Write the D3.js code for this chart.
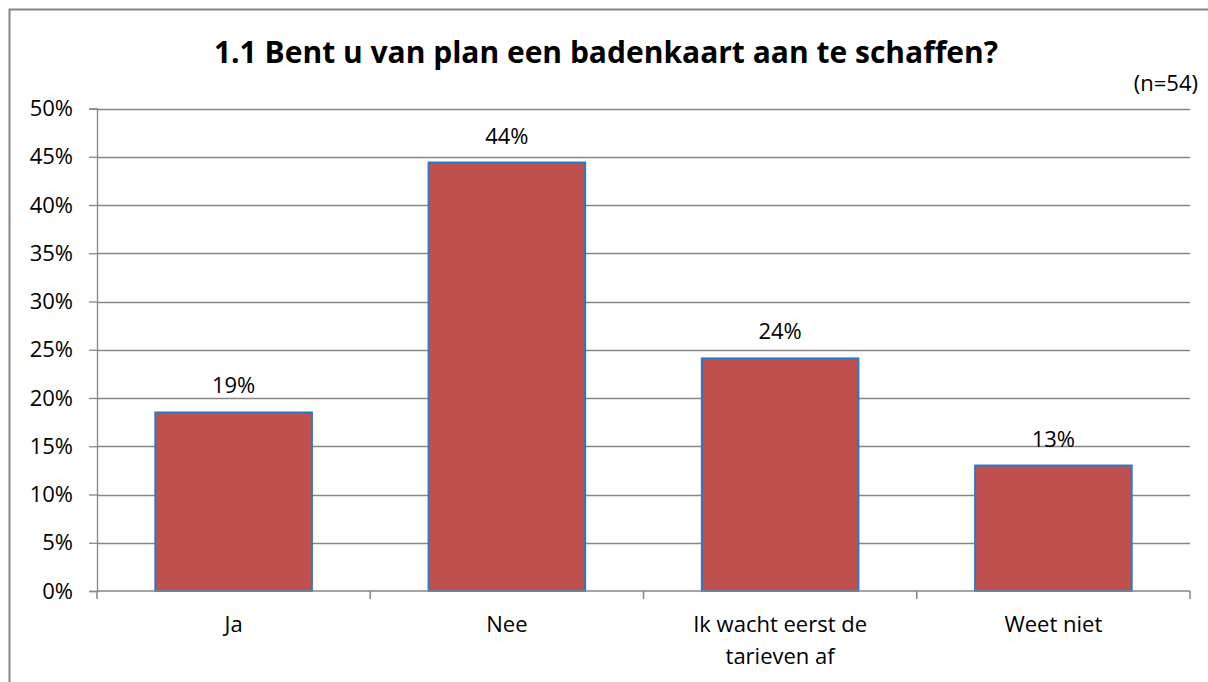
<!DOCTYPE html>
<html>
<head>
<meta charset="utf-8">
<script src="https://cdn.jsdelivr.net/npm/d3@7"></script>
<style>
  body { margin: 0; background: #fff; }
  text { font-family: "Open Sans", Lato, sans-serif; fill: #000; }
</style>
</head>
<body>
<div id="chart"></div>
<script>
// data (n=54)
var categories = ["Ja", "Nee", "Ik wacht eerst de tarieven af", "Weet niet"];
var values = [0.185, 0.444, 0.241, 0.130];
var valueLabels = ["19%", "44%", "24%", "13%"];
var yTicks = [0, 0.05, 0.10, 0.15, 0.20, 0.25, 0.30, 0.35, 0.40, 0.45, 0.50];
var title = "1.1 Bent u van plan een badenkaart aan te schaffen?";
var note = "(n=54)";

var width = 1208, height = 682;
var plotLeft = 97, plotRight = 1190, plotTop = 108.5, plotBottom = 591;
var grey = "#868686";
var font = "'Open Sans', Lato, sans-serif";

var svg = d3.select("#chart").append("svg")
    .attr("width", width)
    .attr("height", height);

// chart frame (runs off the right and bottom edge)
svg.append("rect")
    .attr("x", 9.5).attr("y", 9.5)
    .attr("width", 1210).attr("height", 700)
    .attr("fill", "#fff")
    .attr("stroke", grey)
    .attr("stroke-width", 2);

var x = d3.scaleBand()
    .domain(categories)
    .range([plotLeft, plotRight])
    .paddingInner(0.427)
    .paddingOuter(0.2135);

var y = d3.scaleLinear()
    .domain([0, 0.5])
    .range([plotBottom, plotTop]);

// gridlines
svg.append("g")
    .selectAll("line")
    .data(yTicks.slice(1))
    .enter().append("line")
    .attr("x1", plotLeft).attr("x2", plotRight)
    .attr("y1", d => Math.round(y(d)) + 0.5)
    .attr("y2", d => Math.round(y(d)) + 0.5)
    .attr("stroke", grey)
    .attr("stroke-width", 1.3);

// y axis
var yAxis = svg.append("g")
    .attr("transform", "translate(" + plotLeft + ",0)")
    .call(d3.axisLeft(y).tickValues(yTicks).tickFormat(d3.format(".0%")).tickSize(8).tickPadding(16));
yAxis.select(".domain").attr("stroke", grey).attr("stroke-width", 1.3);
yAxis.selectAll(".tick line").attr("stroke", grey).attr("stroke-width", 1.3);
yAxis.selectAll(".tick text")
    .attr("font-size", 22)
    .attr("font-family", font)
    .attr("fill", "#000");

// bars
svg.append("g")
    .selectAll("rect")
    .data(values)
    .enter().append("rect")
    .attr("x", (d, i) => x(categories[i]))
    .attr("y", d => y(d))
    .attr("width", x.bandwidth())
    .attr("height", d => plotBottom - y(d))
    .attr("fill", "#C0504D")
    .attr("stroke", "#2A78C6")
    .attr("stroke-width", 2);

// x axis: boundary ticks between categories
var step = x.step();
var boundaries = d3.range(categories.length + 1).map(i => plotLeft + i * step);
svg.append("line")
    .attr("x1", plotLeft).attr("x2", plotRight)
    .attr("y1", plotBottom).attr("y2", plotBottom)
    .attr("stroke", grey).attr("stroke-width", 1.5);
svg.append("g")
    .selectAll("line")
    .data(boundaries)
    .enter().append("line")
    .attr("x1", d => d).attr("x2", d => d)
    .attr("y1", plotBottom).attr("y2", plotBottom + 8)
    .attr("stroke", grey).attr("stroke-width", 1.5);

// value labels
svg.append("g")
    .selectAll("text")
    .data(values)
    .enter().append("text")
    .attr("x", (d, i) => x(categories[i]) + x.bandwidth() / 2)
    .attr("y", d => y(d) - 19)
    .attr("text-anchor", "middle")
    .attr("font-size", 22)
    .text((d, i) => valueLabels[i]);

// category labels, wrapped like the original
var catText = svg.append("g")
    .selectAll("text")
    .data(categories)
    .enter().append("text")
    .attr("x", d => x(d) + x.bandwidth() / 2)
    .attr("y", 632)
    .attr("text-anchor", "middle")
    .attr("font-size", 22);

catText.each(function (d) {
    var el = d3.select(this);
    var words = d.split(" ");
    var lines = [], line = [];
    var probe = el.append("tspan");
    words.forEach(w => {
        line.push(w);
        probe.text(line.join(" "));
        if (probe.node().getComputedTextLength() > 210 && line.length > 1) {
            line.pop();
            lines.push(line.join(" "));
            line = [w];
        }
    });
    lines.push(line.join(" "));
    probe.remove();
    lines.forEach((l, i) => {
        el.append("tspan")
            .attr("x", el.attr("x"))
            .attr("dy", i === 0 ? 0 : 32)
            .text(l);
    });
});

// title and note
svg.append("text")
    .attr("x", 606)
    .attr("y", 63)
    .attr("text-anchor", "middle")
    .attr("font-size", 30)
    .attr("font-weight", "bold")
    .text(title);

svg.append("text")
    .attr("x", 1198)
    .attr("y", 91)
    .attr("text-anchor", "end")
    .attr("font-size", 22)
    .text(note);
</script>
</body>
</html>
